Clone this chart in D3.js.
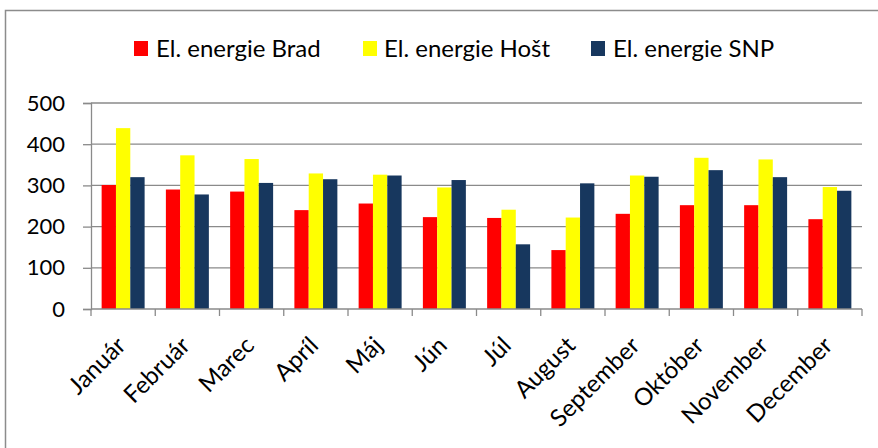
<!DOCTYPE html>
<html>
<head>
<meta charset="utf-8">
<script src="https://cdn.jsdelivr.net/npm/d3@7/dist/d3.min.js"></script>
<style>
  html, body { margin: 0; padding: 0; background: #fff; }
  svg { display: block; font-family: Lato, "Open Sans", sans-serif; }
</style>
</head>
<body>
<svg id="chart" width="878" height="448"></svg>
<script>
const months = ["Január","Február","Marec","Apríl","Máj","Jún","Júl","August","September","Október","November","December"];
const seriesNames = ["El. energie Brad","El. energie Hošt","El. energie SNP"];
const brad = [301, 290, 285, 240, 256, 223, 221, 143, 231, 252, 252, 218];
const host = [439, 373, 364, 329, 326, 295, 241, 222, 324, 367, 363, 296];
const snp  = [320, 278, 306, 315, 324, 313, 157, 305, 321, 337, 320, 287];
const colors = ["#FF0000", "#FFFF00", "#17375E"];
const yTicks = [0, 100, 200, 300, 400, 500];

const values = [brad, host, snp];
const svg = d3.select("#chart");

const margin = {left: 91, right: 878 - 862, top: 103, bottom: 448 - 309};
const W = 878, H = 448;

// chart border
svg.append("rect")
  .attr("x", 5.5).attr("y", 10.5)
  .attr("width", 900).attr("height", 500)
  .attr("fill", "#fff").attr("stroke", "#8c8c8c").attr("stroke-width", 1.5);

const x0 = d3.scaleBand().domain(months).range([margin.left, W - margin.right]).paddingInner(0).paddingOuter(0);
const x1 = d3.scaleBand().domain(seriesNames).range([0, x0.bandwidth()]).paddingInner(0).paddingOuter(0.742);
const y = d3.scaleLinear().domain([0, 500]).range([H - margin.bottom, margin.top]);

// gridlines
svg.append("g").selectAll("line").data(yTicks.filter(d => d > 0)).join("line")
  .attr("x1", margin.left).attr("x2", W - margin.right)
  .attr("y1", d => y(d)).attr("y2", d => y(d))
  .attr("stroke", "#8a8a8a").attr("stroke-width", 1.3);

// bars
const g = svg.append("g");
seriesNames.forEach((s, si) => {
  g.append("g").selectAll("rect").data(months).join("rect")
    .attr("x", m => x0(m) + x1(s))
    .attr("width", x1.bandwidth())
    .attr("y", (m, i) => y(values[si][i]))
    .attr("height", (m, i) => y(0) - y(values[si][i]))
    .attr("fill", colors[si]);
});

// y axis
const yAxis = svg.append("g").attr("transform", `translate(${margin.left},0)`)
  .call(d3.axisLeft(y).tickValues(yTicks).tickSize(8).tickPadding(18).tickFormat(d3.format("d")));
yAxis.select(".domain").attr("stroke", "#8a8a8a").attr("stroke-width", 1.3);
yAxis.selectAll(".tick line").attr("stroke", "#8a8a8a").attr("stroke-width", 1.3);
yAxis.selectAll("text").attr("font-size", 22).attr("fill", "#000").attr("font-family", "Lato");

// x axis line and boundary ticks
svg.append("line")
  .attr("x1", margin.left).attr("x2", W - margin.right)
  .attr("y1", y(0)).attr("y2", y(0))
  .attr("stroke", "#8a8a8a").attr("stroke-width", 1.3);
const bounds = months.map(m => x0(m)).concat([x0(months[months.length-1]) + x0.bandwidth()]);
svg.append("g").selectAll("line").data(bounds).join("line")
  .attr("x1", d => d).attr("x2", d => d)
  .attr("y1", y(0)).attr("y2", y(0) + 7)
  .attr("stroke", "#8a8a8a").attr("stroke-width", 1.3);

// x labels
svg.append("g").selectAll("text").data(months).join("text")
  .attr("transform", m => `translate(${x0(m) + x0.bandwidth()/2 + 4},${y(0) + 38}) rotate(-45)`)
  .attr("text-anchor", "end")
  .attr("font-size", 24)
  .attr("fill", "#000")
  .text(m => m);

// legend
const legendItems = [
  {name: seriesNames[0], color: colors[0], sx: 134, tx: 156},
  {name: seriesNames[1], color: colors[1], sx: 363, tx: 384},
  {name: seriesNames[2], color: colors[2], sx: 591, tx: 613}
];
const leg = svg.append("g");
legendItems.forEach(it => {
  leg.append("rect").attr("x", it.sx).attr("y", 41).attr("width", 14).attr("height", 15).attr("fill", it.color);
  leg.append("text").attr("x", it.tx).attr("y", 57).attr("font-size", 24).attr("fill", "#000").text(it.name);
});
</script>
</body>
</html>
